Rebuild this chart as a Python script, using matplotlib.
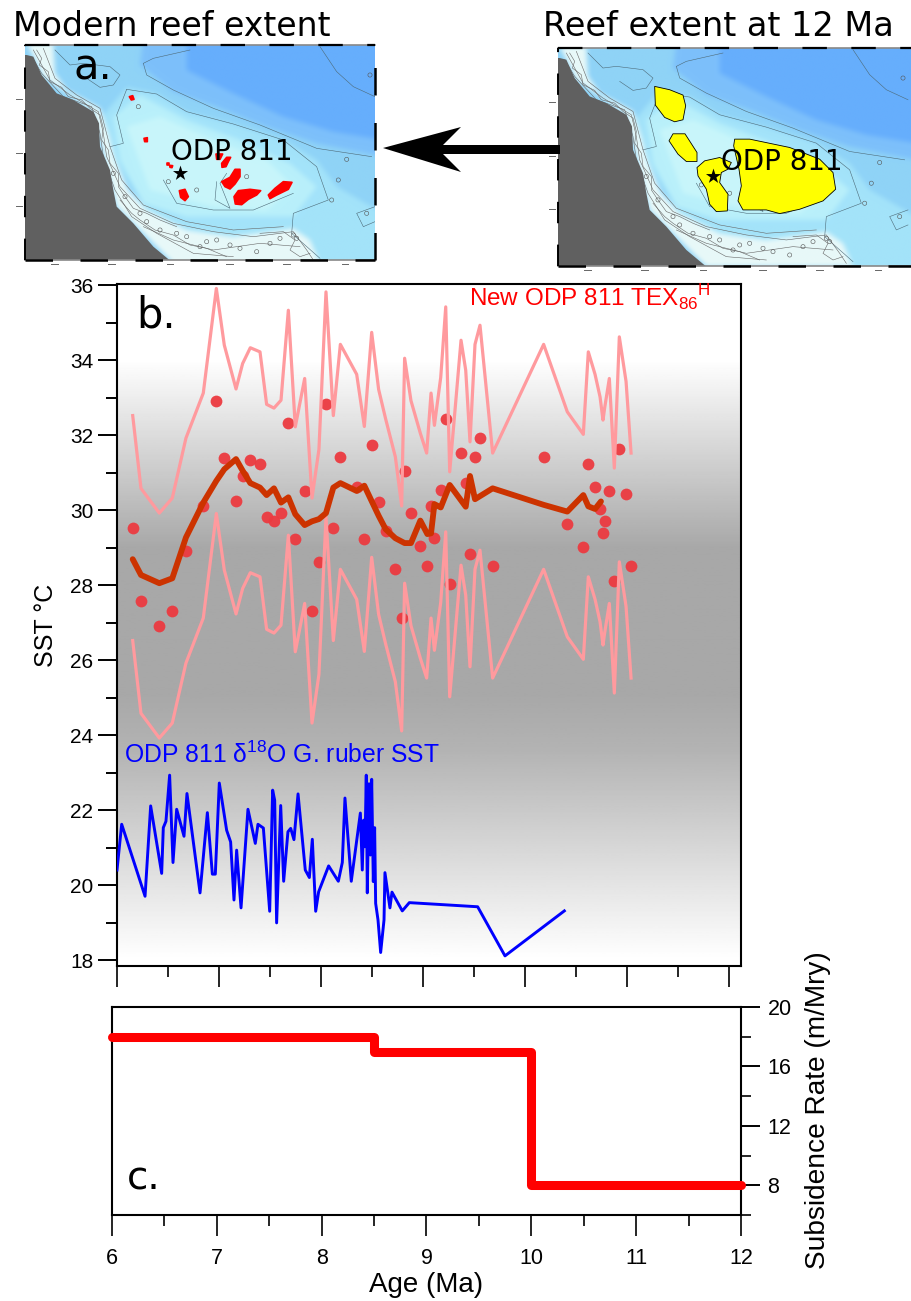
import numpy as np
import matplotlib
matplotlib.use("Agg")
import matplotlib.pyplot as plt
from matplotlib.patches import Polygon
from matplotlib.figure import Figure
from matplotlib.backends.backend_agg import FigureCanvasAgg

plt.rcParams['font.family'] = ['Liberation Sans', 'DejaVu Sans']
plt.rcParams['mathtext.fontset'] = 'custom'
plt.rcParams['mathtext.rm'] = 'Liberation Sans'

# panel b, TEX86 SST
tex_age = [6.154, 6.235, 6.415, 6.542, 6.676, 6.846, 6.974, 7.052, 7.167, 7.232, 7.307, 7.402, 7.467, 7.539,
           7.608, 7.680, 7.748, 7.840, 7.912, 7.980, 8.049, 8.121, 8.190, 8.350, 8.425, 8.497, 8.565, 8.634,
           8.729, 8.791, 8.820, 8.882, 8.974, 9.036, 9.079, 9.112, 9.174, 9.223, 9.262, 9.373, 9.419, 9.461,
           9.510, 9.559, 9.683, 10.183, 10.415, 10.572, 10.621, 10.687, 10.736, 10.765, 10.781, 10.827,
           10.876, 10.925, 10.991, 11.040]
tex_sst = [29.52, 27.58, 26.92, 27.32, 28.92, 30.12, 32.91, 31.40, 30.23, 30.91, 31.33, 31.22, 29.82, 29.72,
           29.93, 32.33, 29.22, 30.51, 27.32, 28.62, 32.82, 29.52, 31.42, 30.62, 29.23, 31.74, 30.22, 29.43,
           28.42, 27.11, 31.05, 29.92, 29.05, 28.52, 30.12, 29.26, 30.54, 32.42, 28.02, 31.53, 30.73, 28.82,
           31.42, 31.93, 28.52, 31.42, 29.62, 29.02, 31.22, 30.62, 30.02, 29.40, 29.72, 30.51, 28.12, 31.62,
           30.43, 28.52]
tex_upper = [32.52, 30.58, 29.92, 30.32, 31.92, 33.12, 35.91, 34.40, 33.23, 33.91, 34.33, 34.22, 32.82, 32.72,
             32.93, 35.33, 32.22, 33.51, 30.32, 31.62, 35.82, 32.52, 34.42, 33.62, 32.23, 34.74, 33.22, 32.43,
             31.42, 30.11, 34.05, 32.92, 32.05, 31.52, 33.12, 32.26, 33.54, 35.42, 31.02, 34.53, 33.73, 31.82,
             34.42, 34.93, 31.52, 34.42, 32.62, 32.02, 34.22, 33.62, 33.02, 32.40, 32.72, 33.51, 31.12, 34.62,
             33.43, 31.52]
tex_lower = [26.52, 24.58, 23.92, 24.32, 25.92, 27.12, 29.91, 28.40, 27.23, 27.91, 28.33, 28.22, 26.82, 26.72,
             26.93, 29.33, 26.22, 27.51, 24.32, 25.62, 29.82, 26.52, 28.42, 27.62, 26.23, 28.74, 27.22, 26.43,
             25.42, 24.11, 28.05, 26.92, 26.05, 25.52, 27.12, 26.26, 27.54, 29.42, 25.02, 28.53, 27.73, 25.82,
             28.42, 28.93, 25.52, 28.42, 26.62, 26.02, 28.22, 27.62, 27.02, 26.40, 26.72, 27.51, 25.12, 28.62,
             27.43, 25.52]
smooth_age = [6.154, 6.235, 6.415, 6.542, 6.676, 6.846, 6.974, 7.052, 7.167, 7.232, 7.307, 7.402, 7.467, 7.539,
              7.608, 7.680, 7.748, 7.840, 7.912, 7.980, 8.049, 8.121, 8.190, 8.350, 8.425, 8.565, 8.634, 8.729,
              8.820, 8.882, 8.974, 9.043, 9.079, 9.112, 9.174, 9.262, 9.419, 9.461, 9.510, 9.683, 10.183, 10.415,
              10.572, 10.621, 10.687, 10.745]
smooth_sst = [28.69, 28.27, 28.05, 28.18, 29.27, 30.20, 30.78, 31.09, 31.36, 31.05, 30.72, 30.60, 30.40, 30.58,
              30.20, 30.34, 29.89, 29.60, 29.70, 29.76, 29.92, 30.60, 30.72, 30.51, 30.65, 29.85, 29.49, 29.25,
              29.12, 29.12, 29.72, 29.36, 29.38, 30.16, 30.07, 30.67, 30.09, 30.91, 30.29, 30.58, 30.14, 29.96,
              30.40, 30.10, 30.03, 30.23]

# panel b, d18O SST
d18o_age = [6.00, 6.046, 6.275, 6.330, 6.438, 6.454, 6.480, 6.516, 6.549, 6.585, 6.657, 6.686, 6.814, 6.886,
            6.935, 6.964, 7.003, 7.075, 7.114, 7.147, 7.173, 7.216, 7.284, 7.356, 7.382, 7.435, 7.497, 7.526,
            7.546, 7.565, 7.605, 7.634, 7.676, 7.703, 7.735, 7.775, 7.846, 7.886, 7.915, 7.948, 7.977, 8.075,
            8.170, 8.209, 8.235, 8.297, 8.386, 8.405, 8.418, 8.431, 8.444, 8.454, 8.471, 8.484, 8.497, 8.513,
            8.526, 8.536, 8.559, 8.585, 8.618, 8.627, 8.676, 8.696, 8.797, 8.866, 9.536, 9.804, 10.386]
d18o_sst = [20.40, 21.62, 19.70, 22.11, 20.31, 21.53, 21.70, 22.93, 20.60, 22.02, 21.30, 22.44, 19.79, 21.93,
            20.29, 20.29, 22.72, 21.46, 21.15, 19.60, 20.93, 19.39, 22.02, 21.11, 21.62, 21.52, 19.30, 22.53,
            22.26, 18.99, 22.12, 20.10, 21.42, 21.51, 21.21, 22.43, 20.40, 20.20, 21.22, 19.30, 19.82, 20.51,
            20.10, 20.60, 22.32, 20.10, 21.92, 20.40, 21.73, 21.02, 22.93, 19.79, 22.70, 20.80, 22.82, 20.09,
            21.53, 19.51, 19.07, 18.20, 19.07, 20.33, 19.39, 19.81, 19.31, 19.53, 19.42, 18.11, 19.31]

# panel c, subsidence
sub_age = [6, 8.5, 8.5, 10, 10, 12]
sub_rate = [18, 18, 17, 17, 8, 8]

sst_major = [18, 20, 22, 24, 26, 28, 30, 32, 34, 36]
sst_minor = [19, 21, 23, 25, 27, 29, 31, 33, 35]
age_major = [6, 7, 8, 9, 10, 11, 12]
age_minor = [6.5, 7.5, 8.5, 9.5, 10.5, 11.5]
rate_major = [8, 12, 16, 20]
rate_minor = [6, 10, 14, 18]

# background shading of panel b, position from the top of the axes and grey level
shade_pos = [0.0, 0.11, 0.386, 0.606, 0.68, 0.99, 1.0]
shade_val = [1.0, 1.0, 0.66, 0.66, 0.70, 1.0, 1.0]

# map outlines, same frame for both maps
land = [(80, 165), (100, 170), (125, 225), (170, 280), (220, 300), (280, 335), (297, 370), (300, 440), (330, 510),
        (340, 570), (350, 620), (400, 670), (460, 740), (520, 790), (70, 790), (70, 165)]
coast_band = [(80, 130), (160, 130), (165, 220), (200, 270), (300, 325), (325, 400), (345, 480), (385, 570),
              (440, 630), (560, 690), (700, 710), (880, 685), (930, 720), (960, 790), (520, 790), (350, 620),
              (280, 335), (130, 230)]
water_mid = [(60, 120), (1150, 120), (1150, 800), (60, 800)]
water_deep1 = [(430, 120), (420, 195), (520, 275), (650, 320), (800, 380), (950, 430), (1150, 470), (1150, 120)]
water_deep2 = [(560, 120), (560, 210), (700, 280), (850, 350), (1000, 395), (1150, 420), (1150, 120)]
shelf1 = [(310, 345), (380, 262), (470, 280), (560, 335), (700, 372), (850, 420), (950, 480), (1010, 560),
          (1150, 640), (1150, 800), (950, 800), (880, 690), (700, 710), (560, 690), (440, 630), (345, 480)]
shelf2 = [(340, 350), (420, 285), (560, 360), (720, 420), (870, 490), (950, 560), (880, 650), (700, 650),
          (560, 650), (430, 610), (360, 480)]
shelf3 = [(380, 380), (480, 350), (640, 420), (800, 480), (880, 560), (800, 630), (640, 620), (450, 570)]
contour_1 = [(430, 190), (440, 225), (520, 270), (640, 325), (780, 375), (950, 445), (1115, 470)]
contour_2 = [(380, 268), (470, 282), (560, 335), (700, 372), (850, 420), (950, 500), (985, 600), (880, 640),
             (875, 700), (960, 775)]
contour_3 = [(380, 268), (350, 345), (370, 430), (330, 440)]
contour_4 = [(165, 150), (210, 195), (250, 190), (330, 200), (360, 225), (340, 255), (300, 262), (260, 235)]
contour_5 = [(490, 540), (530, 610), (640, 630), (760, 630), (880, 580)]
contour_6 = [(650, 545), (645, 600), (690, 625), (660, 550), (680, 520)]
contour_7 = [(960, 140), (1010, 215), (1060, 260), (1125, 290)]
contour_8 = [(1125, 620), (1070, 640), (1090, 680), (1125, 665)]
contour_9 = [(430, 190), (460, 175), (570, 150)]
coast_1 = [(100, 150), (150, 240), (210, 285), (295, 335), (310, 400), (320, 470), (360, 560), (420, 625),
           (520, 670), (640, 695), (760, 710), (880, 695), (920, 750), (940, 780)]
coast_2 = [(130, 145), (165, 235), (230, 285), (300, 325), (330, 440), (365, 540), (430, 615), (560, 665),
           (700, 690), (850, 680)]
coast_3 = [(95, 170), (125, 220), (190, 290), (275, 320), (300, 400), (310, 470), (345, 570), (395, 650),
           (470, 700), (580, 760), (700, 770)]
coast_4 = [(140, 270), (200, 320), (280, 350)]
coast_5 = [(430, 680), (520, 720), (640, 750), (780, 730), (900, 740)]
coast_6 = [(110, 150), (125, 175), (118, 195), (145, 215), (150, 245), (185, 262), (205, 290), (245, 300),
           (270, 325), (300, 345), (310, 385), (305, 420), (325, 450), (330, 490), (355, 520), (355, 560),
           (375, 590), (400, 625), (440, 640), (480, 660), (530, 680)]
coast_7 = [(360, 600), (395, 640), (420, 660), (465, 690), (520, 705), (570, 735), (620, 745), (680, 770)]
coast_8 = [(780, 700), (850, 695), (885, 720), (870, 750), (900, 770), (930, 760)]
blob_x = [150, 200, 480, 530, 600, 650, 720, 810, 880, 890, 1015, 1040, 1100, 590, 415, 505, 740, 995, 1110,
          340, 375, 420, 440, 560, 620, 690, 770, 840]
blob_y = [280, 305, 690, 700, 740, 720, 745, 730, 705, 715, 540, 478, 640, 570, 320, 545, 530, 600, 225,
          520, 590, 640, 665, 710, 725, 735, 755, 715]
tick_x = [163, 335, 510, 688, 860, 1035]
tick_y = [297, 458, 618]

reefs = [
    [(388, 290), (398, 287), (402, 298), (394, 300)],
    [(432, 415), (442, 413), (442, 425), (434, 425)],
    [(501, 490), (508, 490), (508, 495), (502, 495)],
    [(509, 496), (518, 497), (516, 503), (510, 502)],
    [(648, 462), (668, 462), (660, 478), (650, 478)],
    [(665, 490), (680, 472), (692, 472), (685, 485), (678, 500), (666, 502)],
    [(665, 545), (690, 532), (705, 508), (720, 508), (720, 530), (705, 552), (690, 567), (675, 560)],
    [(702, 590), (715, 572), (750, 568), (782, 572), (770, 585), (745, 598), (725, 614), (706, 612)],
    [(805, 585), (825, 565), (850, 545), (876, 547), (865, 568), (830, 585), (810, 596)],
    [(538, 572), (555, 568), (565, 590), (555, 602), (542, 592)],
]
reefs_12ma = [
    [(365, 250), (410, 260), (450, 276), (458, 308), (450, 350), (425, 356), (395, 343), (367, 306)],
    [(420, 392), (456, 392), (492, 448), (492, 475), (460, 475), (435, 453), (408, 413)],
    [(492, 493), (515, 473), (560, 463), (595, 478), (585, 498), (565, 508), (560, 538), (585, 573), (583, 623),
     (550, 625), (530, 603), (520, 558), (495, 518)],
    [(605, 408), (650, 408), (770, 433), (860, 468), (900, 508), (908, 558), (870, 593), (800, 618), (740, 631),
     (700, 620), (630, 620), (615, 593), (625, 548), (618, 498), (602, 428)],
]
site_x = [540]
site_y = [518]

arrow_shape = [(383, 148), (461, 127), (443, 145), (560, 145), (560, 154), (443, 154), (461, 172)]

W, H = 912, 1301


def px_axes(left, top, right, bottom, **kw):
    return fig.add_axes([left / W, 1 - bottom / H, (right - left) / W, (bottom - top) / H], **kw)


def blur(img, k=7):
    kernel = np.ones(k) / k
    out = np.pad(img, ((k, k), (k, k), (0, 0)), mode='edge')
    for _ in range(2):
        for axis in (0, 1):
            out = np.apply_along_axis(np.convolve, axis, out, kernel, mode='same')
    return out[k:-k, k:-k]


def water_image():
    # bathymetry colours, drawn off screen and softened
    f = Figure(figsize=(4.4, 2.8), dpi=100)
    canvas = FigureCanvasAgg(f)
    a = f.add_axes([0, 0, 1, 1])
    a.set_xlim(60, 1150)
    a.set_ylim(800, 120)
    a.axis('off')
    layers = [(water_mid, '#8fd3f7'), (water_deep1, '#7dc0fb'), (water_deep2, '#66aefd'), (shelf1, '#a3e3fa'),
              (shelf2, '#b9f0fb'), (shelf3, '#c8f6fb'), (coast_band, '#e8f9f9')]
    for shape, colour in layers:
        a.add_patch(Polygon(shape, color=colour, lw=0))
    canvas.draw()
    return blur(np.asarray(canvas.buffer_rgba())[:, :, :3] / 255.0)


def draw_map(ax, xlim, ylim, polys, poly_color, edge_color, edge_width):
    ax.imshow(water_img, extent=(60, 1150, 800, 120), aspect='auto', zorder=0)
    ax.set_xlim(*xlim)
    ax.set_ylim(*ylim)
    ax.set_xticks([])
    ax.set_yticks([])
    for s in ax.spines.values():
        s.set_visible(False)
    for c in [contour_1, contour_2, contour_3, contour_4, contour_5, contour_6, contour_7, contour_8, contour_9]:
        ax.plot(*zip(*c), color='#4d6a78', lw=0.4)
    for c in [coast_1, coast_2, coast_3, coast_4, coast_5, coast_6, coast_7, coast_8]:
        ax.plot(*zip(*c), color='#666666', lw=0.4)
    ax.scatter(blob_x, blob_y, s=9, facecolor='none', edgecolor='#555555', lw=0.4, zorder=3)
    ax.add_patch(Polygon(land, color='#606060', lw=0, zorder=4))
    for p in polys:
        ax.add_patch(Polygon(p, facecolor=poly_color, edgecolor=edge_color, lw=edge_width, joinstyle='round',
                             zorder=5))
    ax.scatter(site_x, site_y, marker='*', s=130, color='black', lw=0, zorder=6)
    # map frame
    dash = (0, (11, 11))
    ax.plot(xlim, [ylim[1], ylim[1]], color='#888888', lw=1.2, clip_on=False, zorder=7)
    ax.plot(xlim, [ylim[0], ylim[0]], color='#888888', lw=1.2, clip_on=False, zorder=7)
    ax.plot(xlim, [ylim[1], ylim[1]], color='black', lw=1.6, ls=dash, clip_on=False, zorder=8)
    ax.plot(xlim, [ylim[0], ylim[0]], color='black', lw=1.8, ls=dash, clip_on=False, zorder=8)
    ax.plot([xlim[0], xlim[0]], ylim, color='black', lw=1.4, ls=dash, clip_on=False, zorder=8)
    ax.plot([xlim[1], xlim[1]], ylim, color='black', lw=1.8, ls=dash, clip_on=False, zorder=8)
    # unreadable coordinate labels
    for tx in tick_x:
        ax.plot([tx - 10, tx + 10], [ylim[0] + 13, ylim[0] + 13], color='#666666', lw=0.7, clip_on=False)
    for ty in tick_y:
        ax.plot([xlim[0] - 26, xlim[0] - 10], [ty, ty], color='#666666', lw=0.7, clip_on=False)


fig = plt.figure(figsize=(W / 100, H / 100), dpi=100)
water_img = water_image()

map_a = px_axes(25, 45, 375, 260)
draw_map(map_a, (75, 1125), (780, 135), reefs, '#ff0000', '#ff0000', 1.2)
map_b = px_axes(558, 48, 912, 266)
draw_map(map_b, (75, 1137), (788, 135), reefs_12ma, '#ffff00', 'black', 0.6)

# panel b
ax = px_axes(117, 284, 741, 966)
ax.imshow(np.interp(np.linspace(0, 1, 400), shade_pos, shade_val).reshape(-1, 1), cmap='gray', vmin=0, vmax=1,
          extent=(0, 1, 0, 1), transform=ax.transAxes, aspect='auto', zorder=0)
ax.scatter(tex_age, tex_sst, s=72, color='#ec3a40', alpha=0.95, lw=0, zorder=2)
ax.plot(tex_age, tex_upper, color='#ff9a9e', lw=2.3, zorder=3)
ax.plot(tex_age, tex_lower, color='#ff9a9e', lw=2.3, zorder=3)
ax.plot(smooth_age, smooth_sst, color='#cc3300', lw=4.2, zorder=4, solid_capstyle='round')
ax.plot(d18o_age, d18o_sst, color='#0000ff', lw=2.1, zorder=4)
ax.set_xlim(6, 12.118)
ax.set_ylim(17.84, 36.03)
ax.set_xticks(age_major)
ax.set_xticks(age_minor, minor=True)
ax.set_xticklabels([])
ax.set_yticks(sst_major)
ax.set_yticks(sst_minor, minor=True)
ax.tick_params(axis='y', which='major', length=14, width=1.4, labelsize=15, pad=3)
ax.tick_params(axis='y', which='minor', length=8, width=1.4)
ax.tick_params(axis='x', which='major', length=15, width=1.2)
ax.tick_params(axis='x', which='minor', length=8, width=1.2)
for s in ax.spines.values():
    s.set_linewidth(1.5)
ax.set_ylabel('SST °C', fontsize=18, labelpad=9)

# panel c
axc = px_axes(112, 1007, 741, 1215)
axc.plot(sub_age, sub_rate, color='#ff0000', lw=6.5, clip_on=False, solid_capstyle='round',
         solid_joinstyle='round', zorder=5)
axc.set_xlim(6, 12)
axc.set_ylim(6, 20)
axc.set_xticks(age_major)
axc.set_xticks(age_minor, minor=True)
axc.yaxis.tick_right()
axc.yaxis.set_label_position('right')
axc.set_yticks(rate_major)
axc.set_yticks(rate_minor, minor=True)
axc.tick_params(axis='x', which='major', length=15, width=1.2, labelsize=15.5, pad=9)
axc.tick_params(axis='x', which='minor', length=8, width=1.2)
axc.tick_params(axis='y', which='major', length=14, width=1.4, labelsize=15.5, pad=5)
axc.tick_params(axis='y', which='minor', length=7, width=1.2)
for s in axc.spines.values():
    s.set_linewidth(1.5)
axc.set_xlabel('Age (Ma)', fontsize=20, labelpad=2)

# titles, arrow and panel letters on a full page overlay in pixels
top = fig.add_axes([0, 0, 1, 1], facecolor='none', zorder=20)
top.set_xlim(0, W)
top.set_ylim(H, 0)
top.axis('off')
top.add_patch(Polygon(arrow_shape, color='black', lw=0))
dj = ['DejaVu Sans']
top.text(13, 26, 'Modern reef extent', family=dj, fontsize=23.9, va='center')
top.text(543, 27, 'Reef extent at 12 Ma', family=dj, fontsize=24.1, va='center')
top.text(74, 68, 'a.', family=dj, fontsize=30, va='center')
top.text(136, 316, 'b.', family=dj, fontsize=30, va='center')
top.text(127, 1178, 'c.', family=dj, fontsize=28, va='center')
top.text(171, 152, 'ODP 811', family=dj, fontsize=20, va='center')
top.text(721, 162, 'ODP 811', family=dj, fontsize=20, va='center')
top.text(124, 755, r'ODP 811 δ$^{18}$O G. ruber SST', color='#0000ff', fontsize=17.8, va='center')
top.text(469, 298, r'New ODP 811 TEX$_{86}$$^{\mathrm{H}}$', color='#ff0000', fontsize=17.5, va='center')
top.text(818, 1110, 'Subsidence Rate (m/Mry)', fontsize=20.2, rotation=90, ha='center', va='center')

fig.savefig('out.png', dpi=100)
